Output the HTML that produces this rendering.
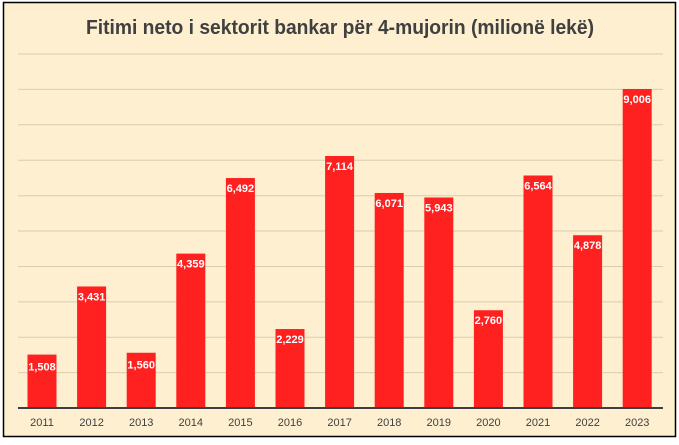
<!DOCTYPE html><html><head><style>body{margin:0;background:#fff}</style></head><body>
<svg width="679" height="440" xmlns="http://www.w3.org/2000/svg" font-family="Liberation Sans, sans-serif">
<rect x="3.5" y="2.5" width="672" height="434" fill="#FDEFCF" stroke="#000" stroke-width="1.5"/>
<text x="340" y="34" text-anchor="middle" font-size="20" font-weight="bold" fill="#404040" textLength="508" lengthAdjust="spacingAndGlyphs">Fitimi neto i sektorit bankar për 4-mujorin (milionë lekë)</text>
<g stroke="#D9CDB0" stroke-width="1">
<line x1="18" x2="663" y1="54" y2="54"/><line x1="18" x2="663" y1="89.4" y2="89.4"/><line x1="18" x2="663" y1="124.8" y2="124.8"/><line x1="18" x2="663" y1="160.2" y2="160.2"/><line x1="18" x2="663" y1="195.7" y2="195.7"/><line x1="18" x2="663" y1="231" y2="231"/><line x1="18" x2="663" y1="266.5" y2="266.5"/><line x1="18" x2="663" y1="301.9" y2="301.9"/><line x1="18" x2="663" y1="337.3" y2="337.3"/><line x1="18" x2="663" y1="372.6" y2="372.6"/>
</g>
<g id="bars" fill="#FF2020"></g>
<line x1="18" x2="663" y1="408" y2="408" stroke="#404040" stroke-width="2"/>
<g id="lbl" font-size="11" fill="#404040" text-anchor="middle"></g>
<g id="val" font-size="11" font-weight="bold" fill="#fff" text-anchor="middle"></g>
<script>
var v=[1508,3431,1560,4359,6492,2229,7114,6071,5943,2760,6564,4878,9006];
var b=document.getElementById('bars'),l=document.getElementById('lbl'),t=document.getElementById('val');
var ns='http://www.w3.org/2000/svg';
v.forEach(function(d,i){var c=42+i*49.6,h=d*0.03542,y=408-h;
var r=document.createElementNS(ns,'rect');r.setAttribute('x',c-14.5);r.setAttribute('y',y);r.setAttribute('width',29);r.setAttribute('height',h);b.appendChild(r);
var a=document.createElementNS(ns,'text');a.setAttribute('x',c);a.setAttribute('y',426);a.textContent=2011+i;l.appendChild(a);
var e=document.createElementNS(ns,'text');e.setAttribute('x',c);e.setAttribute('y',y+ (d<2000?16:14));e.textContent=d.toLocaleString('en-US');t.appendChild(e);});
</script>
</svg></body></html>
